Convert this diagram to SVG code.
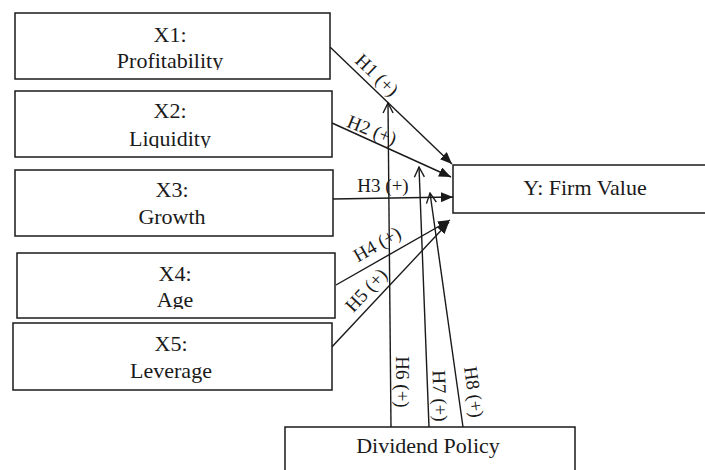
<svg xmlns="http://www.w3.org/2000/svg" width="705" height="470" viewBox="0 0 705 470">
<style>
.box{fill:#fff;stroke:#1a1a1a;stroke-width:1.5}
.t{font-family:"Liberation Serif","Times New Roman",serif;font-size:22px;fill:#1a1a1a;text-anchor:middle}
.lbl{font-family:"Liberation Serif","Times New Roman",serif;font-size:19px;fill:#1a1a1a;text-anchor:middle;dominant-baseline:central}
.ln{stroke:#1a1a1a;stroke-width:1.4;fill:none}
</style>
<defs>
<marker id="fa" viewBox="0 0 12 10" refX="12" refY="5" markerWidth="12" markerHeight="10" markerUnits="userSpaceOnUse" orient="auto">
<path d="M0,0 L12,5 L0,10 Z" fill="#1a1a1a"/>
</marker>
<marker id="oa" viewBox="0 0 12 12" refX="11" refY="6" markerWidth="12" markerHeight="12" markerUnits="userSpaceOnUse" orient="auto">
<path d="M1,1 L11,6 L1,11" fill="none" stroke="#1a1a1a" stroke-width="1.4"/>
</marker>
<clipPath id="c1"><rect x="15" y="13" width="315" height="57"/></clipPath>
<clipPath id="c2"><rect x="15" y="91" width="317" height="57"/></clipPath>
<clipPath id="c4"><rect x="17" y="253" width="318" height="56"/></clipPath>
</defs>
<g id="connectors">
<line class="ln" x1="330" y1="47" x2="452" y2="164" marker-end="url(#fa)"/>
<line class="ln" x1="332" y1="123" x2="451" y2="177" marker-end="url(#fa)"/>
<line class="ln" x1="333" y1="199" x2="453" y2="197" marker-end="url(#fa)"/>
<line class="ln" x1="336" y1="285" x2="450" y2="220" marker-end="url(#fa)"/>
<line class="ln" x1="329" y1="350" x2="449" y2="222" marker-end="url(#fa)"/>
<line class="ln" x1="391" y1="427" x2="388" y2="103" marker-end="url(#oa)"/>
<line class="ln" x1="429" y1="427" x2="419" y2="167" marker-end="url(#oa)"/>
<line class="ln" x1="463" y1="427" x2="430" y2="193" marker-end="url(#oa)"/>
<text class="lbl" transform="translate(377,75) rotate(44)">H1 (+)</text>
<text class="lbl" transform="translate(372,130) rotate(22)">H2 (+)</text>
<text class="lbl" transform="translate(383,185)">H3 (+)</text>
<text class="lbl" transform="translate(377,244) rotate(-30)">H4 (+)</text>
<text class="lbl" transform="translate(366,290) rotate(-47)">H5 (+)</text>
<text class="lbl" transform="translate(402,382) rotate(90)">H6 (+)</text>
<text class="lbl" transform="translate(440,396) rotate(88)">H7 (+)</text>
<text class="lbl" transform="translate(474,392) rotate(82)">H8 (+)</text>
</g>
<g id="x1">
<rect class="box" x="15" y="13" width="315" height="66"/>
<text class="t" x="170" y="42">X1:</text>
<text class="t" x="170" y="68" clip-path="url(#c1)">Profitability</text>
</g>
<g id="x2">
<rect class="box" x="15" y="91" width="317" height="66"/>
<text class="t" x="170" y="118">X2:</text>
<text class="t" x="170" y="146" clip-path="url(#c2)">Liquidity</text>
</g>
<g id="x3">
<rect class="box" x="15" y="170" width="318" height="66"/>
<text class="t" x="172" y="197">X3:</text>
<text class="t" x="172" y="224">Growth</text>
</g>
<g id="x4">
<rect class="box" x="17" y="253" width="318" height="65"/>
<text class="t" x="175" y="281">X4:</text>
<text class="t" x="175" y="307" clip-path="url(#c4)">Age</text>
</g>
<g id="x5">
<rect class="box" x="13" y="323" width="319" height="67"/>
<text class="t" x="171" y="351">X5:</text>
<text class="t" x="171" y="378">Leverage</text>
</g>
<g id="y">
<rect class="box" x="453" y="165" width="260" height="48"/>
<text class="t" x="585" y="195">Y: Firm Value</text>
</g>
<g id="dividend">
<rect class="box" x="285" y="427" width="290" height="50"/>
<text class="t" x="428" y="453">Dividend Policy</text>
</g>
</svg>
